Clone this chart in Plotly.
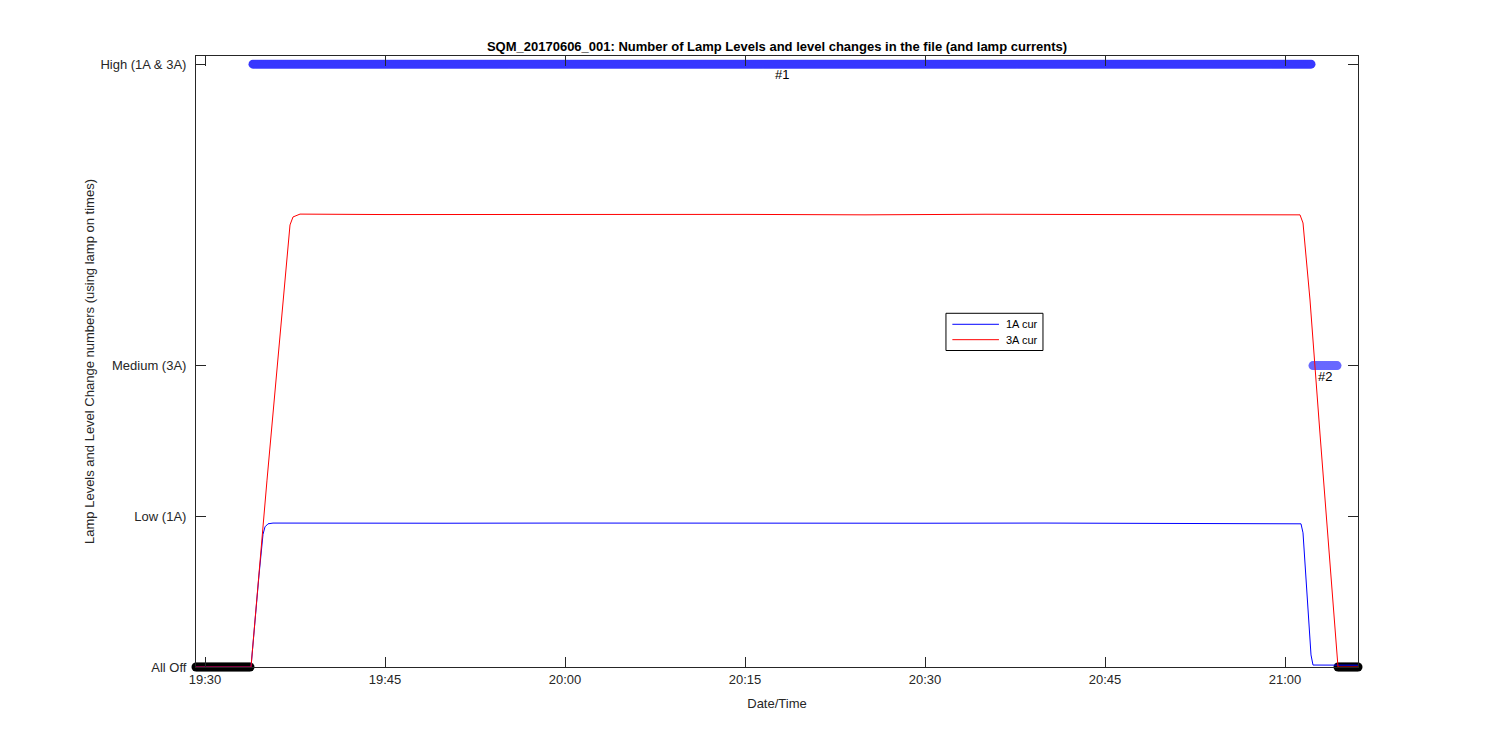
import plotly.graph_objects as go
import pandas as pd

DAY = "2017-06-06 "

# Lamp level change runs (marker segments)
seg_start = ["19:29:15", "19:34:00", "21:02:20", "21:04:25"]
seg_end = ["19:33:50", "21:02:10", "21:04:20", "21:06:05"]
seg_level = [0, 4, 2, 0]
seg_color = ["#000000", "#3737ff", "#6868ff", "#000000"]
seg_label = ["", "#1", "#2", ""]

# Y tick labels
level_vals = [0, 1, 2, 4]
level_text = ["All Off", "Low (1A)", "Medium (3A)", "High (1A & 3A)"]

# X tick labels
x_ticks = ["19:30", "19:45", "20:00", "20:15", "20:30", "20:45", "21:00"]

# Lamp currents
cur_names = ["1A cur", "3A cur"]
cur_colors = ["#0000ff", "#ff0000"]

cur1_t = ["19:29:15", "19:33:50", "19:34:30", "19:34:40", "19:34:50", "19:35:00",
          "19:35:15", "19:35:40", "19:40:00", "19:50:00", "20:00:00", "20:10:00",
          "20:20:00", "20:30:00", "20:40:00", "20:50:00", "21:00:00", "21:01:10",
          "21:01:20", "21:01:30", "21:01:45", "21:02:00", "21:02:10", "21:02:20",
          "21:04:00", "21:06:05"]
cur1_v = [0.0, 0.0, 0.61, 0.76, 0.88, 0.93,
          0.95, 0.955, 0.956, 0.954, 0.955, 0.953,
          0.955, 0.954, 0.955, 0.953, 0.955, 0.955,
          0.95, 0.89, 0.57, 0.245, 0.08, 0.013,
          0.012, 0.012]

cur3_t = ["19:29:15", "19:33:50", "19:35:10", "19:36:30", "19:36:55", "19:37:05",
          "19:37:20", "19:37:40", "19:37:55", "19:45:00", "19:55:00", "20:05:00",
          "20:15:00", "20:25:00", "20:35:00", "20:45:00", "20:55:00", "21:01:00",
          "21:01:15", "21:01:30", "21:02:05", "21:02:55", "21:03:45", "21:04:20",
          "21:04:25", "21:06:05"]
cur3_v = [0.0, 0.0, 1.24, 2.435, 2.833, 2.933,
          2.986, 3.0, 3.005, 3.002, 3.004, 3.001,
          3.003, 3.0, 3.004, 3.002, 3.003, 3.004,
          3.0, 2.946, 2.435, 1.546, 0.657, 0.027,
          0.0, 0.0]

FONT = "Liberation Sans, Arial, sans-serif"
INK = "#262626"

fig = go.Figure()

annotations = []
shapes = []
for s, e, lv, col, lab in zip(seg_start, seg_end, seg_level, seg_color, seg_label):
    ts = pd.date_range(DAY + s, DAY + e, freq="10s")
    fig.add_trace(go.Scatter(
        x=ts, y=[lv] * len(ts), mode="markers",
        marker=dict(color=col, size=9, line=dict(width=0)),
        showlegend=False, cliponaxis=False, hoverinfo="skip"))
    if lab:
        mid = pd.Timestamp(DAY + s) + (pd.Timestamp(DAY + e) - pd.Timestamp(DAY + s)) / 2
        annotations.append(dict(x=mid, y=lv, xref="x", yref="y", text=lab,
                                showarrow=False, yanchor="top", yshift=-1,
                                font=dict(family=FONT, size=13, color="#000000")))

for name, col, t, v in zip(cur_names, cur_colors, [cur1_t, cur3_t], [cur1_v, cur3_v]):
    fig.add_trace(go.Scatter(x=[DAY + tt for tt in t], y=v, mode="lines",
                             name=name, line=dict(color=col, width=1),
                             showlegend=False))

# Legend box drawn MATLAB-style (paper coordinates)
box_x0, box_x1, box_y0, box_y1 = 0.6454, 0.7289, 0.518, 0.5789
line_x0, line_x1, text_x = 0.6509, 0.691, 0.6956
row_y = [0.5609, 0.5357]
shapes.append(dict(type="rect", xref="paper", yref="paper", x0=box_x0, x1=box_x1,
                   y0=box_y0, y1=box_y1, line=dict(color="#000000", width=1),
                   fillcolor="white", layer="above"))
for name, col, ry in zip(cur_names, cur_colors, row_y):
    shapes.append(dict(type="line", xref="paper", yref="paper", x0=line_x0, x1=line_x1,
                       y0=ry, y1=ry, line=dict(color=col, width=1), layer="above"))
    annotations.append(dict(x=text_x, y=ry, xref="paper", yref="paper", text=name,
                            showarrow=False, xanchor="left", yanchor="middle",
                            font=dict(family=FONT, size=11, color="#000000")))

fig.update_layout(
    width=1500, height=750,
    paper_bgcolor="white", plot_bgcolor="white",
    margin=dict(l=196, r=142, t=56, b=83),
    font=dict(family=FONT, size=13, color=INK),
    title=dict(text="<b>SQM_20170606_001: Number of Lamp Levels and level changes in the file (and lamp currents)</b>",
               x=0.5, xref="paper", xanchor="center", y=1 - 46 / 750, yanchor="middle",
               font=dict(family=FONT, size=13, color="#000000")),
    annotations=annotations,
    shapes=shapes,
    showlegend=False,
)

fig.update_xaxes(
    range=[DAY + seg_start[0], DAY + seg_end[-1]],
    tickvals=[DAY + t for t in x_ticks], ticktext=x_ticks,
    showgrid=False, zeroline=False,
    showline=True, linecolor=INK, linewidth=1, mirror="ticks",
    ticks="inside", ticklen=10, tickcolor=INK,
    title=dict(text="Date/Time", font=dict(family=FONT, size=13, color=INK), standoff=13),
)
fig.update_yaxes(
    range=[0, 4.054],
    tickvals=level_vals, ticktext=level_text,
    showgrid=False, zeroline=False,
    showline=True, linecolor=INK, linewidth=1, mirror="ticks",
    ticks="inside", ticklen=10, tickcolor=INK, ticklabelstandoff=6,
    title=dict(text="Lamp Levels and Level Change numbers (using lamp on times)",
               font=dict(family=FONT, size=13, color=INK), standoff=2),
)

fig.write_html("out.html", config={"displayModeBar": False},
               post_script="document.body.style.margin='0';")
